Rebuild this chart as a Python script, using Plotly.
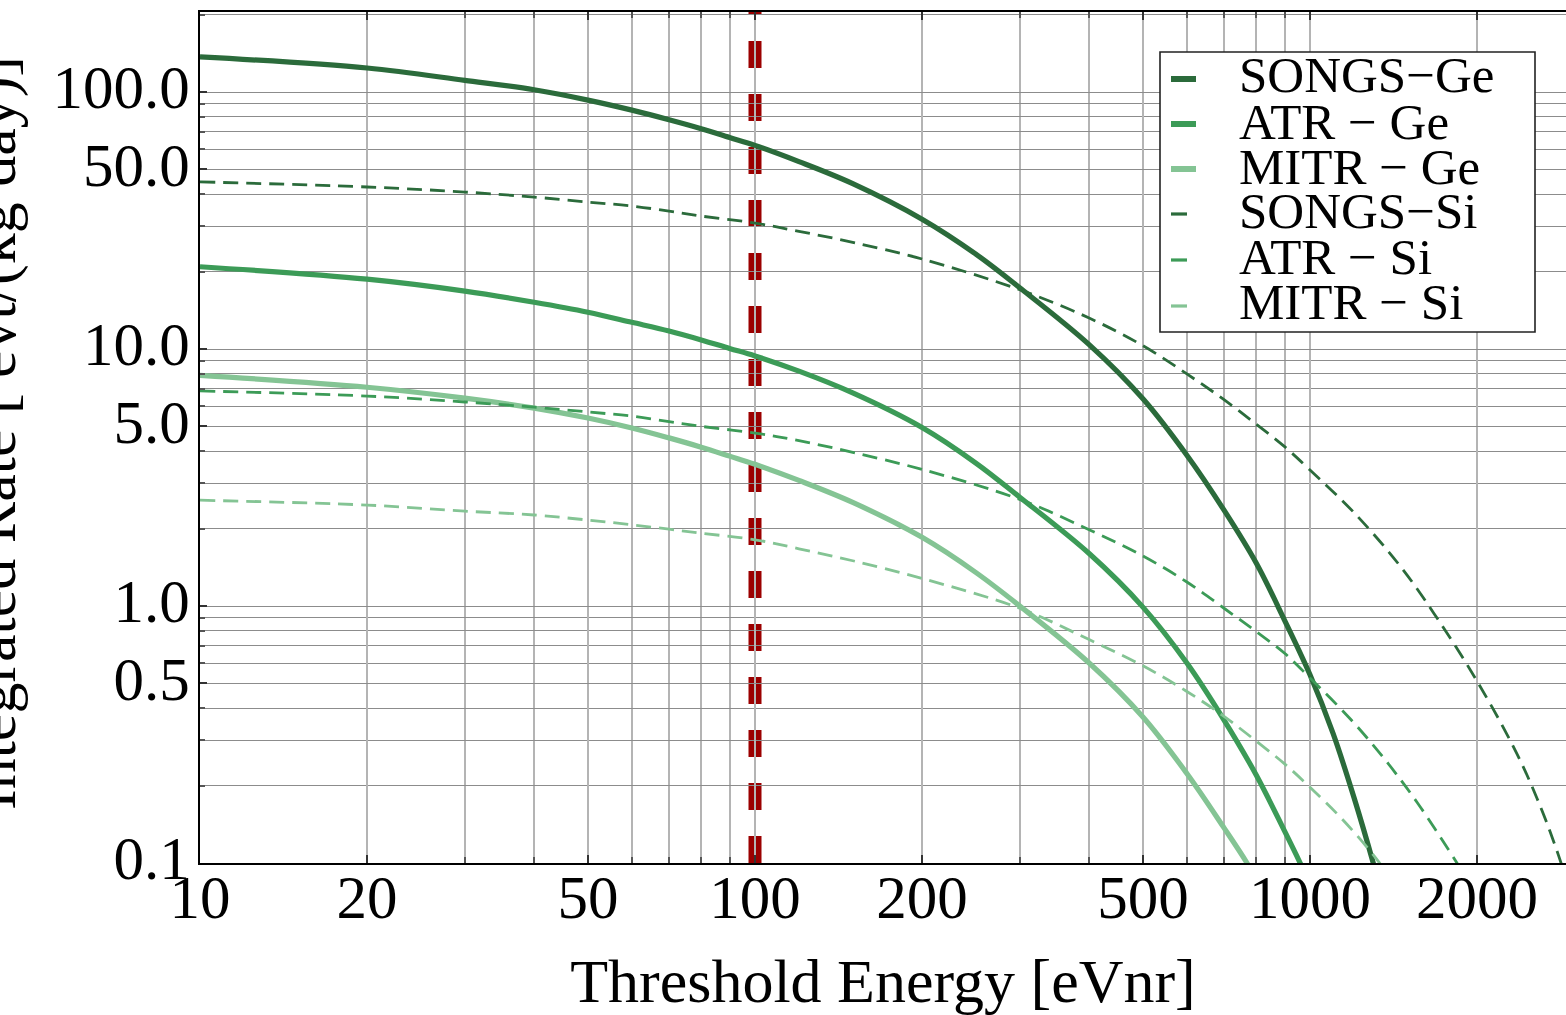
import plotly.graph_objects as go

# ---------------- data ----------------
songs_ge_x = [10, 20, 30, 40, 50, 60, 70, 80, 90, 100, 120, 150, 200, 250, 300, 400, 500,
              600, 700, 800, 900, 1000, 1100, 1200, 1300, 1400]
songs_ge_y = [137, 124, 111, 102, 93, 85, 78, 72, 66.5, 62, 53.6, 44, 32, 23.4, 17.3, 10.4, 6.4,
              3.86, 2.36, 1.47, 0.88, 0.54, 0.32, 0.18, 0.10, 0.055]

atr_ge_x = [10, 20, 30, 40, 50, 60, 70, 80, 90, 100, 120, 150, 200, 250, 300, 400, 500,
            600, 700, 800, 900, 960, 1050]
atr_ge_y = [20.9, 18.7, 16.8, 15.2, 13.9, 12.7, 11.75, 10.85, 10.05, 9.4, 8.2, 6.75, 4.95, 3.6, 2.65,
            1.6, 0.99, 0.60, 0.36, 0.22, 0.133, 0.10, 0.066]

mitr_ge_x = [10, 20, 30, 40, 50, 60, 70, 80, 90, 100, 120, 150, 200, 250, 300, 400, 500,
             600, 700, 770, 850]
mitr_ge_y = [7.9, 7.1, 6.44, 5.89, 5.39, 4.93, 4.51, 4.15, 3.83, 3.56, 3.08, 2.53, 1.85, 1.35, 1.0,
             0.6, 0.37, 0.223, 0.137, 0.10, 0.069]

songs_si_x = [10, 20, 30, 40, 50, 60, 70, 80, 100, 120, 150, 200, 300, 400, 500, 600, 700,
              800, 900, 1000, 1200, 1450, 1670, 2000, 2360, 2600, 2800, 3000]
songs_si_y = [44.7, 42.7, 40.8, 39.0, 37.3, 36.0, 34.4, 32.9, 30.9, 28.7, 26.0, 22.4, 17.0, 13.2,
              10.3, 8.0, 6.35, 5.1, 4.17, 3.38, 2.31, 1.44, 0.94, 0.51, 0.266, 0.166, 0.108, 0.067]

atr_si_x = [10, 20, 30, 40, 50, 60, 70, 80, 100, 120, 150, 200, 300, 400, 500, 600, 700,
            800, 900, 1000, 1180, 1360, 1560, 1840, 2000]
atr_si_y = [6.87, 6.56, 6.22, 5.94, 5.69, 5.48, 5.22, 5.0, 4.71, 4.40, 3.96, 3.40, 2.6, 1.98,
            1.565, 1.24, 0.98, 0.795, 0.655, 0.525, 0.365, 0.255, 0.172, 0.10, 0.075]

mitr_si_x = [10, 20, 30, 40, 50, 60, 70, 80, 100, 120, 150, 200, 300, 400, 500, 600, 700,
             800, 900, 1000, 1150, 1330, 1450]
mitr_si_y = [2.58, 2.47, 2.34, 2.26, 2.16, 2.07, 1.99, 1.92, 1.81, 1.67, 1.5, 1.28, 0.98, 0.74,
             0.585, 0.465, 0.372, 0.298, 0.243, 0.197, 0.146, 0.101, 0.077]

threshold_ev = 100

series_names = ["SONGS\u2212Ge", "ATR \u2212 Ge", "MITR \u2212 Ge",
                "SONGS\u2212Si", "ATR \u2212 Si", "MITR \u2212 Si"]

x_tick_vals = [10, 20, 50, 100, 200, 500, 1000, 2000]
x_tick_text = ["10", "20", "50", "100", "200", "500", "1000", "2000"]
y_tick_vals = [0.1, 0.5, 1, 5, 10, 50, 100]
y_tick_text = ["0.1", "0.5", "1.0", "5.0", "10.0", "50.0", "100.0"]

# ---------------- styling ----------------
FONT = "Liberation Serif"
C_SONGS = "#2b6b3b"
C_ATR = "#3c9b57"
C_MITR = "#84c494"
C_RED = "#9b0000"

W, H = 1566, 1015
ML, MR, MT, MB = 200, 0, 12, 152
PW, PH = W - ML - MR, H - MT - MB


def pxx(px):
    return (px - ML) / PW


def pxy(py):
    return (H - MB - py) / PH


traces = [
    (series_names[0], songs_ge_x, songs_ge_y, C_SONGS, True),
    (series_names[1], atr_ge_x, atr_ge_y, C_ATR, True),
    (series_names[2], mitr_ge_x, mitr_ge_y, C_MITR, True),
    (series_names[3], songs_si_x, songs_si_y, C_SONGS, False),
    (series_names[4], atr_si_x, atr_si_y, C_ATR, False),
    (series_names[5], mitr_si_x, mitr_si_y, C_MITR, False),
]

fig = go.Figure()
for name, xs, ys, col, solid in traces:
    fig.add_trace(go.Scatter(
        x=xs, y=ys, mode="lines", name=name, showlegend=False,
        line=dict(color=col, width=5.2 if solid else 2.8,
                  dash="solid" if solid else "15px,8px",
                  shape="spline", smoothing=1.0),
    ))

minor_x = [m * 10 ** k for k in range(1, 4) for m in range(1, 10)]
minor_y = [m * 10 ** k for k in range(-1, 3) for m in range(1, 10)]

shapes = [
    dict(type="line", xref="x", yref="paper", x0=threshold_ev, x1=threshold_ev, y0=0, y1=1,
         line=dict(color=C_RED, width=13, dash="27px,26px"), layer="between"),
    dict(type="rect", xref="paper", yref="paper", x0=pxx(1160), x1=pxx(1535),
         y0=pxy(332), y1=pxy(52), line=dict(color="#222", width=1.6),
         fillcolor="white", layer="above"),
]
annotations = []
row_y = [79, 124, 169, 214, 260, 306]
text_y = [75, 122, 167, 211, 257, 302]
for i, (name, xs, ys, col, solid) in enumerate(traces):
    shapes.append(dict(type="line", xref="paper", yref="paper",
                       x0=pxx(1171), x1=pxx(1196 if solid else 1187),
                       y0=pxy(row_y[i]), y1=pxy(row_y[i]),
                       line=dict(color=col, width=6 if solid else 3.2), layer="above"))
    annotations.append(dict(xref="paper", yref="paper", x=pxx(1237), y=pxy(text_y[i]),
                            text=name, showarrow=False, xanchor="left", yanchor="middle",
                            font=dict(family=FONT, size=51, color="black")))

annotations.append(dict(xref="paper", yref="paper", x=pxx(-6), y=pxy(433),
                        text="Integrated Rate [ evt/(kg day)]", textangle=-90,
                        showarrow=False, xanchor="center", yanchor="middle",
                        font=dict(family=FONT, size=62, color="black")))

fig.update_layout(
    width=W, height=H,
    margin=dict(l=ML, r=MR, t=MT, b=MB, pad=0),
    paper_bgcolor="white", plot_bgcolor="white",
    font=dict(family=FONT, color="black"),
    shapes=shapes, annotations=annotations,
    showlegend=False,
)
fig.update_xaxes(
    type="log", range=[1, 1 + PW / 555.0],
    tickmode="array", tickvals=x_tick_vals, ticktext=x_tick_text,
    tickfont=dict(family=FONT, size=61, color="black"),
    ticks="inside", ticklen=8, tickcolor="#333", tickwidth=1.5,
    ticklabelstandoff=-20,
    showline=True, linecolor="black", linewidth=2, mirror="allticks",
    showgrid=True, gridcolor="#b4b4b4", gridwidth=1.5,
    minor=dict(tickmode="array", tickvals=minor_x, ticks="inside", ticklen=6,
               tickcolor="#555", showgrid=True, gridcolor="#b4b4b4", gridwidth=1.5),
    title=dict(text="Threshold Energy [eVnr]", font=dict(family=FONT, size=62, color="black"),
               standoff=37),
    automargin=False, zeroline=False,
)
fig.update_yaxes(
    type="log", range=[-1, 2 + (863 - 12 - 3 * 257) / 257.0],
    tickmode="array", tickvals=y_tick_vals, ticktext=y_tick_text,
    tickfont=dict(family=FONT, size=61, color="black"),
    ticks="inside", ticklen=7, tickcolor="#333", tickwidth=1.5,
    ticklabelstandoff=-4, ticklabelshift=-5,
    showline=True, linecolor="black", linewidth=2, mirror=False,
    showgrid=True, gridcolor="#8c8c8c", gridwidth=1,
    minor=dict(tickmode="array", tickvals=minor_y, ticks="inside", ticklen=5,
               tickcolor="#555", showgrid=True, gridcolor="#8c8c8c", gridwidth=1),
    automargin=False, zeroline=False,
)

fig.write_html("out.html")
